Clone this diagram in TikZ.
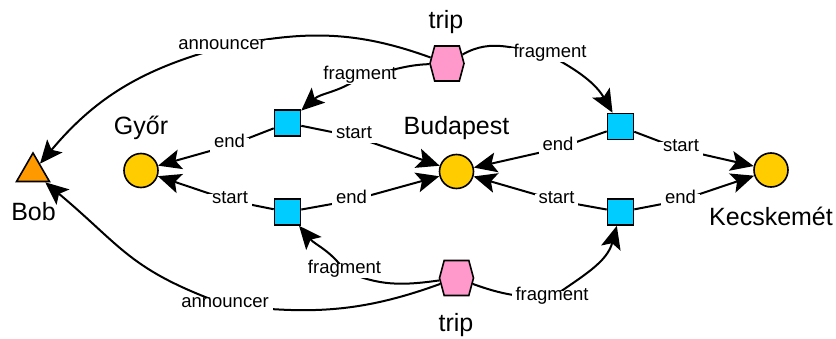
\documentclass[tikz,border=0pt]{standalone}
\usepackage{fontspec}
\setmainfont{Liberation Sans}
\usetikzlibrary{arrows.meta,shapes.geometric,shapes.symbols}
\pgfdeclarelayer{bg}
\pgfsetlayers{bg,main}
\definecolor{sqblue}{RGB}{0,204,255}
\definecolor{cityyellow}{RGB}{255,204,0}
\definecolor{personorange}{RGB}{255,153,0}
\definecolor{trippink}{RGB}{255,153,204}
\begin{document}
\begin{tikzpicture}[x=1pt,y=1pt,
  citynode/.style={circle,draw,line width=1.6pt,fill=cityyellow,minimum size=34pt,inner sep=0pt},
  segnode/.style={rectangle,draw,line width=1.6pt,fill=sqblue,minimum size=26pt,inner sep=0pt},
  tripnode/.style={signal,signal to=east and west,signal pointer angle=150,draw,line width=1.6pt,fill=trippink,minimum width=34pt,minimum height=35pt,inner sep=0pt},
  personnode/.style={regular polygon,regular polygon sides=3,draw,line width=1.6pt,fill=personorange,minimum size=38pt,inner sep=0pt},
  bigtext/.style={font=\fontsize{25}{28}\selectfont,anchor=base,inner sep=0pt},
  edgelbl/.style={font=\fontsize{18.5}{20}\selectfont,anchor=base,fill=white,inner xsep=4pt,inner ysep=2pt,text height=0.75em,text depth=0.25em},
  connline/.style={line width=2pt},
  arrline/.style={connline,-{Stealth[length=23pt,width=20pt,inset=5pt]}}
]
\useasboundingbox (0,0) rectangle (836,338);
% main nodes
\node[personnode] (bob) at (33,166) {};
\node[citynode] (gyor) at (141,167.5) {};
\node[citynode] (buda) at (456.5,166.5) {};
\node[citynode] (kecs) at (771,168) {};
\node[segnode] (sqTL) at (287.5,215) {};
\node[segnode] (sqTR) at (620.5,211.5) {};
\node[segnode] (sqBL) at (287.5,126) {};
\node[segnode] (sqBR) at (620.5,126) {};
\node[tripnode] (hexT) at (447,274.5) {};
\node[tripnode] (hexB) at (456.5,60) {};
% names
\node[bigtext] (nBob) at (33.5,118) {Bob};
\node[bigtext] (nGyor) at (141,203) {Győr};
\node[bigtext] (nBuda) at (456.5,203) {Budapest};
\node[bigtext] (nKecs) at (771,113) {Kecskemét};
\node[bigtext] (nTripT) at (446,309) {trip};
\node[bigtext] (nTripB) at (456,7) {trip};
% edge labels
\node[edgelbl] (lAnnT) at (222,288) {announcer};
\node[edgelbl] (lFragTL) at (360,258) {fragment};
\node[edgelbl] (lFragTR) at (550,280) {fragment};
\node[edgelbl] (lEndTL) at (229.5,190) {end};
\node[edgelbl] (lStartTL) at (354,199) {start};
\node[edgelbl] (lEndTR) at (558,187) {end};
\node[edgelbl] (lStartTR) at (681,186) {start};
\node[edgelbl] (lStartBL) at (230,135) {start};
\node[edgelbl] (lEndBL) at (351.5,135) {end};
\node[edgelbl] (lStartBR) at (556.5,135) {start};
\node[edgelbl] (lEndBR) at (680.5,135) {end};
\node[edgelbl] (lFragBL) at (344.5,65) {fragment};
\node[edgelbl] (lFragBR) at (552,38) {fragment};
\node[edgelbl] (lAnnB) at (225,31) {announcer};
% connectors
\begin{pgfonlayer}{bg}
\draw[arrline] (hexT) to[out=160,in=12] (lAnnT.center) to[out=195,in=50] (bob);
\draw[arrline] (hexT) to[out=182,in=10] (lFragTL.center) to[out=215,in=42] (sqTL);
\draw[arrline] (hexT) to[out=30,in=170] (lFragTR.center) to[out=-28,in=120] (sqTR);
\draw[arrline] (sqTL) -- (lEndTL.center) -- (gyor);
\draw[arrline] (sqTL) -- (lStartTL.center) -- (buda);
\draw[arrline] (sqBL) -- (lStartBL.center) -- (gyor);
\draw[arrline] (sqBL) -- (lEndBL.center) -- (buda);
\draw[arrline] (sqTR) -- (lEndTR.center) -- (buda);
\draw[arrline] (sqTR) -- (lStartTR.center) -- (kecs);
\draw[arrline] (sqBR) -- (lStartBR.center) -- (buda);
\draw[arrline] (sqBR) -- (lEndBR.center) -- (kecs);
\draw[arrline] (hexB) to[out=188,in=-25] (lFragBL.center) to[out=125,in=-50] (sqBL);
\draw[arrline] (hexB) to[out=-20,in=180] (lFragBR.center) to[out=35,in=-105] (sqBR);
\draw[arrline] (hexB) to[out=200,in=-7] (lAnnB.center) to[out=160,in=-40,looseness=1.2] (bob);
\end{pgfonlayer}
\end{tikzpicture}
\end{document}
